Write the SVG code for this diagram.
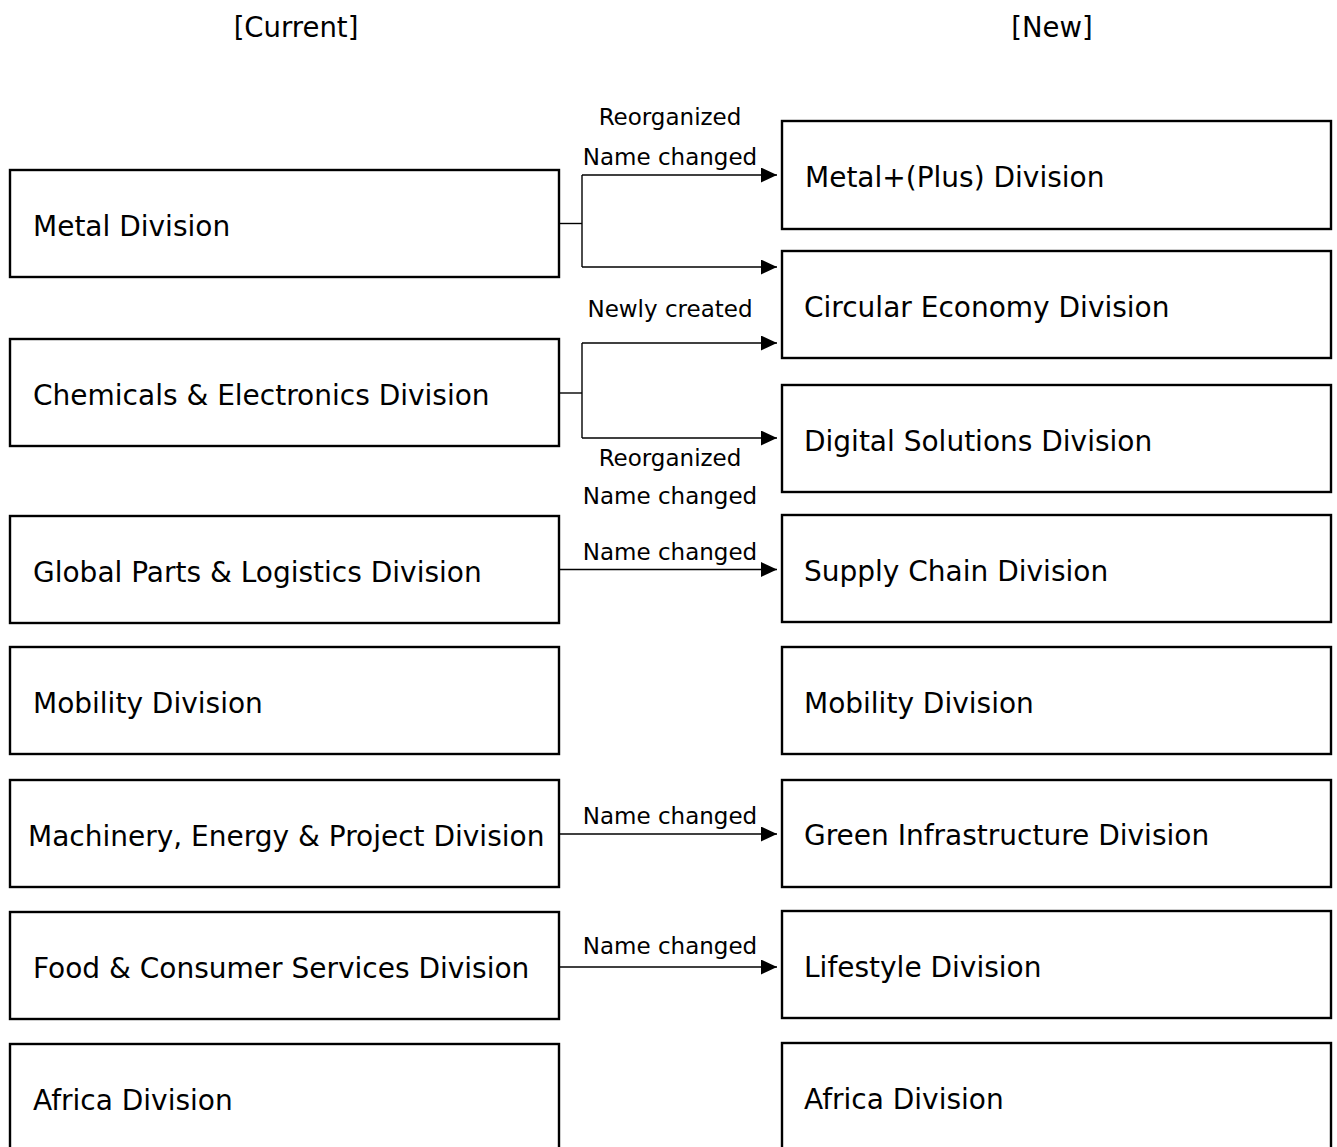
<svg xmlns="http://www.w3.org/2000/svg" width="1337" height="1147" viewBox="0 0 1337 1147">
<style>
.box{fill:#fff;stroke:#000;stroke-width:2.4}
.t{font-family:"DejaVu Sans",Verdana,sans-serif;font-size:28px;fill:#000}
.lb{font-family:"DejaVu Sans",Verdana,sans-serif;font-size:23px;fill:#000;text-anchor:middle}
.hd{font-family:"DejaVu Sans",Verdana,sans-serif;font-size:27.5px;fill:#000;text-anchor:middle}
.c{fill:none;stroke:#000;stroke-width:1.4}
</style>
<defs>
<marker id="ah" markerWidth="16" markerHeight="15" refX="16" refY="7.5" orient="auto" markerUnits="userSpaceOnUse">
<path d="M0,0 L16,7.5 L0,15 Z" fill="#000"/>
</marker>
</defs>
<rect width="1337" height="1147" fill="#fff"/>
<text class="hd" x="296" y="37">[Current]</text>
<text class="hd" x="1052" y="37">[New]</text>

<g id="l1"><rect class="box" x="10" y="170" width="549" height="107"/><text class="t" x="33" y="236">Metal Division</text></g>
<g id="l2"><rect class="box" x="10" y="339" width="549" height="107"/><text class="t" x="33" y="405">Chemicals &amp; Electronics Division</text></g>
<g id="l3"><rect class="box" x="10" y="516" width="549" height="107"/><text class="t" x="33" y="582">Global Parts &amp; Logistics Division</text></g>
<g id="l4"><rect class="box" x="10" y="647" width="549" height="107"/><text class="t" x="33" y="713">Mobility Division</text></g>
<g id="l5"><rect class="box" x="10" y="780" width="549" height="107"/><text class="t" x="28" y="846">Machinery, Energy &amp; Project Division</text></g>
<g id="l6"><rect class="box" x="10" y="912" width="549" height="107"/><text class="t" x="33" y="978">Food &amp; Consumer Services Division</text></g>
<g id="l7"><rect class="box" x="10" y="1044" width="549" height="107"/><text class="t" x="33" y="1110">Africa Division</text></g>

<g id="r1"><rect class="box" x="782" y="121" width="549" height="108"/><text class="t" x="805" y="187">Metal+(Plus) Division</text></g>
<g id="r2"><rect class="box" x="782" y="251" width="549" height="107"/><text class="t" x="804" y="317">Circular Economy Division</text></g>
<g id="r3"><rect class="box" x="782" y="385" width="549" height="107"/><text class="t" x="804" y="451">Digital Solutions Division</text></g>
<g id="r4"><rect class="box" x="782" y="515" width="549" height="107"/><text class="t" x="804" y="581">Supply Chain Division</text></g>
<g id="r5"><rect class="box" x="782" y="647" width="549" height="107"/><text class="t" x="804" y="713">Mobility Division</text></g>
<g id="r6"><rect class="box" x="782" y="780" width="549" height="107"/><text class="t" x="804" y="845">Green Infrastructure Division</text></g>
<g id="r7"><rect class="box" x="782" y="911" width="549" height="107"/><text class="t" x="804" y="977">Lifestyle Division</text></g>
<g id="r8"><rect class="box" x="782" y="1043" width="549" height="107"/><text class="t" x="804" y="1109">Africa Division</text></g>

<g id="connectors">
<path class="c" d="M559,223.5 H582"/>
<path class="c" d="M582,175 V267"/>
<path class="c" d="M582,175 H777" marker-end="url(#ah)"/>
<path class="c" d="M582,267 H777" marker-end="url(#ah)"/>
<path class="c" d="M559,393 H582"/>
<path class="c" d="M582,343 V438"/>
<path class="c" d="M582,343 H777" marker-end="url(#ah)"/>
<path class="c" d="M582,438 H777" marker-end="url(#ah)"/>
<path class="c" d="M559,569.5 H777" marker-end="url(#ah)"/>
<path class="c" d="M559,834 H777" marker-end="url(#ah)"/>
<path class="c" d="M559,967 H777" marker-end="url(#ah)"/>
<text class="lb" x="670" y="125">Reorganized</text>
<text class="lb" x="670" y="165">Name changed</text>
<text class="lb" x="670" y="317">Newly created</text>
<text class="lb" x="670" y="466">Reorganized</text>
<text class="lb" x="670" y="504">Name changed</text>
<text class="lb" x="670" y="560">Name changed</text>
<text class="lb" x="670" y="824">Name changed</text>
<text class="lb" x="670" y="954">Name changed</text>
</g>
</svg>
